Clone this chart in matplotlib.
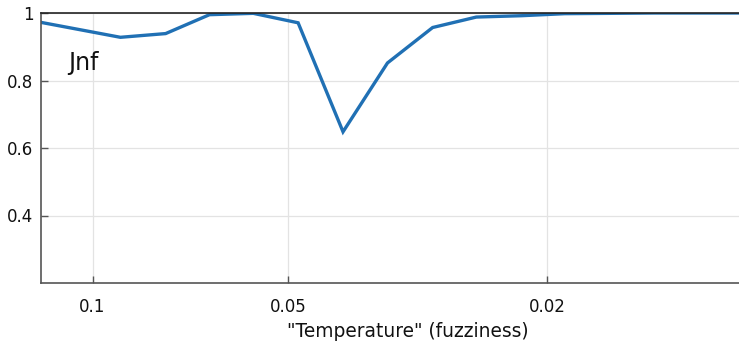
import matplotlib
matplotlib.use("Agg")
import matplotlib.pyplot as plt
from matplotlib.ticker import FixedLocator, FixedFormatter, NullLocator

temperature = [0.1245, 0.1062, 0.0906, 0.0772, 0.0661, 0.0566, 0.0483, 0.0412,
               0.0352, 0.0300, 0.0257, 0.0219, 0.0188, 0.0160, 0.0137, 0.0117, 0.0100, 0.0085]
jnf = [0.978, 0.953, 0.928, 0.939, 0.995, 0.999, 0.971, 0.648,
       0.852, 0.957, 0.988, 0.992, 0.998, 0.999, 1.0, 1.0, 1.0, 1.0]
xticks = [0.1, 0.05, 0.02]
xticklabels = ["0.1", "0.05", "0.02"]
yticks = [0.4, 0.6, 0.8, 1.0]
yticklabels = ["0.4", "0.6", "0.8", "1"]

plt.rcParams['font.family'] = ['DejaVu Sans']

fig = plt.figure(figsize=(7.39, 3.45), dpi=100)
ax = fig.add_axes([41/739, 1-283/345, (775-41)/739, (283-13)/345])
ax.plot(temperature, jnf, color='#2070b4', lw=2.4, solid_joinstyle='miter', clip_on=True)
ax.set_xscale('log')
ax.set_xlim(0.12, 0.00893)
ax.set_ylim(0.2, 1.0)
ax.xaxis.set_major_locator(FixedLocator(xticks))
ax.xaxis.set_major_formatter(FixedFormatter(xticklabels))
ax.xaxis.set_minor_locator(NullLocator())
ax.set_yticks(yticks)
ax.set_yticklabels(yticklabels)
ax.grid(True, color='#e3e3e3', lw=0.9)
ax.set_axisbelow(True)
ax.tick_params(direction='in', length=5, width=1, color='#555555', labelsize=12, pad=5.5, labelcolor='#111111')
ax.tick_params(axis='x', pad=11)
for s in ['left', 'bottom']:
    ax.spines[s].set_color('#555555')
    ax.spines[s].set_linewidth(1.2)
ax.spines['top'].set_color('#222222')
ax.spines['top'].set_linewidth(1.2)
ax.spines['right'].set_visible(False)
ax.set_xlabel('"Temperature" (fuzziness)', fontsize=13.4, color='#111111', labelpad=4)
ax.text(0.1088, 0.852, 'Jnf', fontsize=17, color='#111111', ha='left', va='center')
fig.savefig('out.png', dpi=100)
